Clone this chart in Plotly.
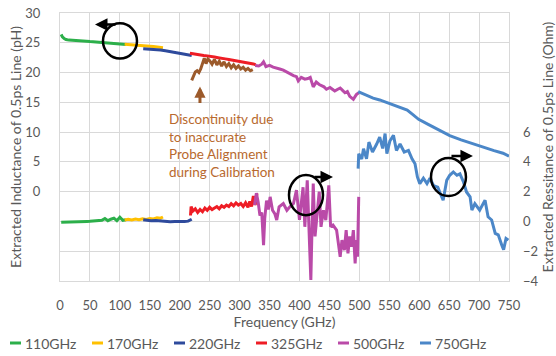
import plotly.graph_objects as go

# ---------------- data ----------------
# Frequency (GHz) / extracted inductance (pH, left axis) / resistance (Ohm, right axis)
f110 = [2, 4, 7, 10, 15, 20, 25, 30, 35, 40, 45, 50, 55, 60, 65, 70, 75, 80, 85, 90, 95, 100, 105, 110]
L110 = [26.4, 26.0, 25.7, 25.55, 25.45, 25.4, 25.38, 25.33, 25.3, 25.27, 25.24, 25.2,
        25.18, 25.14, 25.1, 25.05, 25.0, 24.98, 24.95, 24.9, 24.85, 24.8, 24.76, 24.72]
R110 = [-0.05, -0.05, -0.04, -0.05, -0.03, -0.03, -0.02, -0.02, -0.01, 0.0, 0.0, 0.01,
        0.02, 0.03, 0.05, 0.08, 0.2, 0.05, 0.15, 0.22, 0.05, 0.28, 0.08, 0.12]

f170 = [108, 114, 120, 126, 132, 138, 144, 150, 156, 162, 168, 172]
L170 = [24.75, 24.72, 24.68, 24.62, 24.58, 24.55, 24.5, 24.43, 24.37, 24.28, 24.2, 24.15]
R170 = [0.1, 0.14, 0.1, 0.16, 0.12, 0.18, 0.14, 0.2, 0.17, 0.24, 0.22, 0.3]

f220 = [139, 145, 152, 160, 168, 176, 184, 192, 200, 208, 214, 220]
L220 = [24.0, 23.98, 23.92, 23.85, 23.78, 23.65, 23.5, 23.38, 23.22, 23.08, 22.98, 22.88]
R220 = [0.12, 0.08, 0.05, 0.07, 0.03, 0.0, -0.02, 0.0, -0.03, -0.01, 0.02, 0.15]

fL325 = [217, 222, 228, 234, 240, 246, 252, 258, 264, 270, 276, 282, 288, 294, 300, 306, 312, 318, 323, 327]
L325 = [23.25, 23.15, 23.05, 23.0, 22.85, 22.8, 22.65, 22.6, 22.5, 22.35, 22.3, 22.2,
        22.1, 21.95, 21.85, 21.8, 21.65, 21.5, 21.45, 21.3]
fR325 = [218, 219, 222, 226, 230, 234, 238, 242, 246, 250, 254, 258, 262, 266, 270, 274,
         278, 282, 286, 290, 294, 298, 302, 306, 310, 314, 317, 320, 323, 326, 329]
R325 = [0.4, 1.0, 0.7, 0.85, 0.6, 0.8, 0.65, 0.9, 0.75, 0.95, 0.8, 0.9, 1.0, 0.85, 1.05, 0.95,
        1.1, 1.0, 1.2, 1.05, 1.25, 1.1, 1.2, 1.0, 1.25, 0.95, 1.35, 1.0, 1.7, 1.1, 1.9]

fL500 = [326, 332, 337, 340, 344, 350, 356, 362, 367, 373, 379, 385, 390, 395, 398, 403, 409, 414, 418,
         423, 428, 433, 437, 441, 445, 451, 455, 459, 464, 468, 472, 476, 480, 484, 490, 495, 499]
L500 = [21.2, 21.1, 21.4, 21.8, 21.0, 21.2, 20.9, 20.8, 20.6, 20.4, 20.05, 19.8, 19.5, 19.3, 18.6, 19.2,
        18.9, 19.0, 19.2, 17.6, 18.4, 18.0, 17.8, 17.6, 17.2, 17.5, 17.2, 16.9, 17.2, 17.4, 17.0, 16.6,
        16.8, 16.0, 15.5, 16.3, 16.6]
fR500 = [325, 328, 331, 334, 337, 340, 342, 345, 348, 351, 355, 359, 362, 366, 373, 379, 384, 390, 395,
         400, 406, 409, 413, 416, 419, 421, 423, 426, 429, 433, 436, 440, 444, 449, 452, 456, 462, 468,
         471, 475, 478, 481, 484, 487, 490, 493, 495, 497, 499]
R500 = [1.1, 1.9, 1.3, 0.4, 0.6, -1.6, 0.2, 1.4, 0.8, 1.65, 0.75, 0.5, 0.1, 0.98, 1.2, 0.75, 0.98, 1.2,
        2.1, 0.1, 2.3, -0.36, 2.76, -1.25, -3.93, -0.36, 2.54, -1.0, 0.53, 2.0, -0.36, 0.75, 0.09, 2.43,
        -0.36, -0.25, -0.58, -2.37, -1.25, -1.92, -0.58, -2.15, -1.0, -1.7, -0.58, -2.82, -1.25, -2.37, 1.65]

fL750 = [498, 510, 523, 534, 545, 556, 568, 580, 590, 599, 615, 630, 651, 670, 690, 707, 725, 740, 750]
L750 = [16.8, 16.3, 15.7, 15.4, 15.0, 14.6, 14.2, 13.7, 12.9, 12.15, 11.3, 10.5, 9.4, 8.7, 8.0, 7.4,
        6.9, 6.45, 5.95]
fR750 = [498, 499, 501, 504, 507, 512, 516, 522, 529, 534, 539, 543, 546, 551, 557, 562, 568, 575,
         582, 588, 593, 597, 601, 607, 613, 618, 624, 631, 635, 640, 646, 651, 657, 663, 668, 674,
         679, 685, 688, 693, 701, 710, 715, 721, 727, 732, 738, 741, 745, 749]
R750 = [3.55, 4.55, 4.4, 4.2, 4.89, 4.2, 5.33, 4.66, 5.2, 5.66, 4.9, 5.9, 4.55, 5.4, 5.78, 4.77, 5.2,
        4.66, 4.77, 4.2, 3.88, 2.99, 2.54, 2.9, 2.54, 2.9, 2.4, 2.3, 1.9, 1.43, 2.76, 3.1, 3.32, 3.1,
        3.2, 2.65, 1.98, 1.65, 0.76, 1.2, 0.76, 1.43, 0.31, 0.1, -0.8, -0.9, -1.6, -1.9, -1.14, -1.25]

# discontinuity (brown) inductance curve
fBR = [220, 223, 226, 229, 232, 235, 238, 241, 244, 247, 250, 254, 258, 262, 266, 270, 274, 278, 282,
       286, 290, 294, 298, 302, 306, 310, 314, 318, 322]
LBR = [18.7, 19.3, 20.1, 20.3, 20.0, 20.6, 21.6, 22.4, 21.5, 22.3, 22.0, 21.4, 22.2, 21.3, 21.9, 21.1,
       21.8, 21.0, 21.5, 20.8, 21.3, 20.7, 21.1, 20.6, 20.9, 20.4, 20.7, 20.3, 20.5]

names = ["110GHz", "170GHz", "220GHz", "325GHz", "500GHz", "750GHz"]
colors = ["#2CAF4A", "#FFC000", "#2E4A9C", "#EE1D25", "#BA4AA8", "#4B87C8"]
brown_line = "#9C5A2B"
brown_text = "#B8692E"

L_sets = [(f110, L110), (f170, L170), (f220, L220), (fL325, L325), (fL500, L500), (fL750, L750)]
R_sets = [(f110, R110), (f170, R170), (f220, R220), (fR325, R325), (fR500, R500), (fR750, R750)]

fig = go.Figure()
for name, col, (fx, fy) in zip(names, colors, L_sets):
    fig.add_trace(go.Scatter(x=fx, y=fy, name=name, mode="lines", legendgroup=name,
                             line=dict(color=col, width=3)))
fig.add_trace(go.Scatter(x=fBR, y=LBR, mode="lines", showlegend=False,
                         line=dict(color=brown_line, width=3)))
for name, col, (fx, fy) in zip(names, colors, R_sets):
    fig.add_trace(go.Scatter(x=fx, y=fy, name=name, mode="lines", legendgroup=name, showlegend=False,
                             yaxis="y2", line=dict(color=col, width=3)))

grid = "#D9D9D9"
left_ticks = list(range(-15, 31, 5))
left_text = ["" if v < 0 else str(v) for v in left_ticks]

ML, MR, MT, MB, W, H = 60, 47, 13, 75, 556, 356
PW, PH = W - ML - MR, H - MT - MB

fig.update_layout(
    width=W, height=H,
    margin=dict(l=ML, r=MR, t=MT, b=MB, autoexpand=False),
    paper_bgcolor="white", plot_bgcolor="white",
    font=dict(family="Lato", size=13, color="#595959"),
    showlegend=False,
    xaxis=dict(range=[0, 750], tickvals=list(range(0, 751, 50)), showgrid=True, gridcolor=grid,
               zeroline=False, showline=True, linecolor=grid, mirror=True, ticks="",
               ticklabelstandoff=12, automargin=False,
               title=dict(text="Frequency (GHz)", font=dict(size=14), standoff=4)),
    yaxis=dict(range=[-15, 30], tickvals=left_ticks, ticktext=left_text, showgrid=True, gridcolor=grid,
               zeroline=False, showline=True, linecolor=grid, mirror=True, ticks="",
               ticklabelstandoff=16, automargin=False,
               title=dict(text="Extracted Inductance of 0.5ps Line (pH)", font=dict(size=14), standoff=0)),
    yaxis2=dict(range=[-4, 14], overlaying="y", side="right", tickvals=[-4, -2, 0, 2, 4, 6],
                showgrid=False, zeroline=False, showline=False, ticks="", ticklabelstandoff=13,
                automargin=False,
                title=dict(text="Extracted Ressitance of 0.5ps Line (Ohm)", font=dict(size=14), standoff=8)),
)

# legend row below the axis title (line swatch + label per series)
leg_y = (MT + PH - 343) / PH
for i, (name, col) in enumerate(zip(names, colors)):
    x0 = 10 + 82 * i
    fig.add_shape(type="line", xref="paper", yref="paper",
                  x0=(x0 - ML) / PW, x1=(x0 + 11 - ML) / PW, y0=leg_y, y1=leg_y,
                  line=dict(color=col, width=3))
    fig.add_annotation(x=(x0 + 13 - ML) / PW, y=leg_y, xref="paper", yref="paper", text=name,
                       showarrow=False, xanchor="left", yanchor="middle",
                       font=dict(family="Lato", size=14, color="#595959"))

# circles
circles = [(71.8, 128.6, 22.36, 28.26), (382.5, 439.3, -3.95, 2.80), (619.7, 678.1, -0.74, 5.67)]
for x0, x1, y0, y1 in circles:
    fig.add_shape(type="circle", xref="x", yref="y", x0=x0, x1=x1, y0=y0, y1=y1,
                  line=dict(color="black", width=2.5))

# black arrows (head position, tail offset in px)
for hx, hy, ax in [(58.5, 28.09, 22), (456, 2.46, -20), (689.8, 6.0, -23)]:
    fig.add_annotation(x=hx, y=hy, xref="x", yref="y", ax=ax, ay=0, text="", showarrow=True,
                       arrowhead=2, arrowsize=1, arrowwidth=2.5, arrowcolor="black")

# brown arrow + note
fig.add_annotation(x=233.8, y=17.64, xref="x", yref="y", ax=0, ay=18, text="", showarrow=True,
                   arrowhead=2, arrowsize=0.75, arrowwidth=3, arrowcolor=brown_line)
fig.add_annotation(x=178.7, y=7.77, xref="x", yref="y", xanchor="left", yanchor="middle", align="left",
                   showarrow=False,
                   text="Discontinuity due<br>to inaccurate<br>Probe Alignment<br>during Calibration",
                   font=dict(family="Lato", size=13.5, color=brown_text))

fig.write_html("out.html")
